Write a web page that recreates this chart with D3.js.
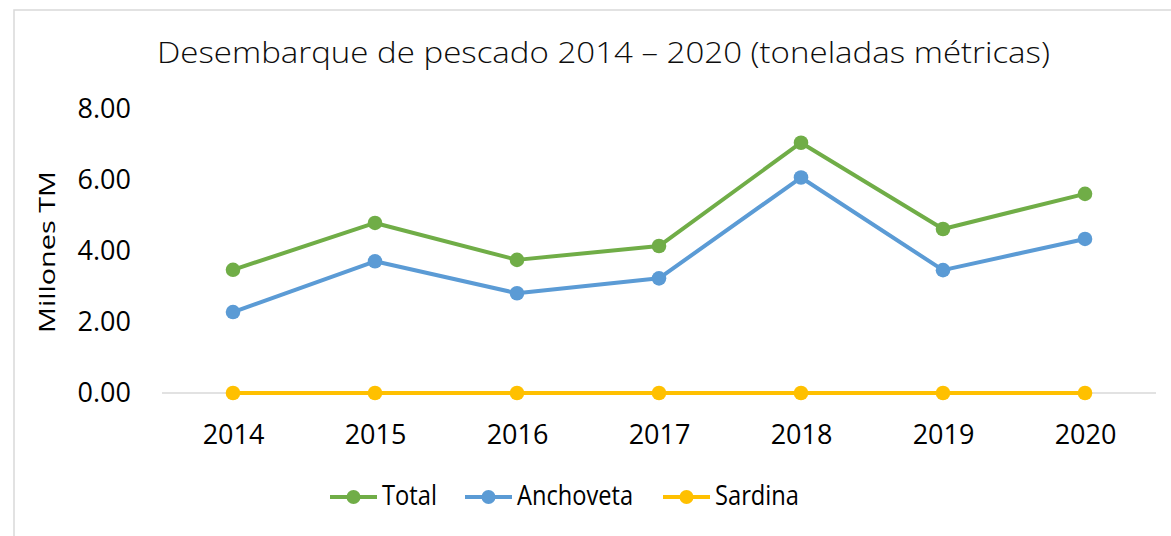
<!DOCTYPE html>
<html>
<head>
<meta charset="utf-8">
<script src="https://cdn.jsdelivr.net/npm/d3@7"></script>
<style>
  body { margin: 0; background: #fff; }
  svg { display: block; font-family: 'Open Sans', 'Noto Sans', sans-serif; }
</style>
</head>
<body>
<svg id="chart" width="1171" height="536"></svg>
<script>
const years = ['2014', '2015', '2016', '2017', '2018', '2019', '2020'];
const total = [3.47, 4.79, 3.75, 4.14, 7.05, 4.62, 5.61];
const anchoveta = [2.28, 3.71, 2.81, 3.23, 6.07, 3.46, 4.34];
const sardina = [0.00, 0.00, 0.00, 0.00, 0.00, 0.00, 0.00];
const yTicks = [0, 2, 4, 6, 8];

const series = [
  { name: 'Total', values: total, color: '#70AD47', width: 55 },
  { name: 'Anchoveta', values: anchoveta, color: '#5B9BD5', width: 116 },
  { name: 'Sardina', values: sardina, color: '#FFC000', width: 84 }
];

const svg = d3.select('#chart');

// chart border
svg.append('rect')
  .attr('x', 14).attr('y', 10)
  .attr('width', 1170).attr('height', 540)
  .attr('fill', 'none').attr('stroke', '#D9D9D9').attr('stroke-width', 1.5);

const x = d3.scalePoint().domain(years).range([162, 1156]).padding(0.5);
const y = d3.scaleLinear().domain([0, 8]).range([393, 109]);

// title
svg.append('text')
  .attr('x', 157).attr('y', 63)
  .attr('font-size', 29).attr('font-weight', 300)
  .attr('fill', '#0d0d0d')
  .attr('textLength', 893).attr('lengthAdjust', 'spacingAndGlyphs')
  .text('Desembarque de pescado 2014 – 2020 (toneladas métricas)');

// y axis labels
const yAxis = svg.append('g').attr('transform', 'translate(131,0)')
  .call(d3.axisLeft(y).tickValues(yTicks).tickFormat(d3.format('.2f')).tickSize(0).tickPadding(0));
yAxis.select('.domain').remove();
yAxis.selectAll('text').attr('font-size', 27).attr('fill', '#000').attr('font-family', "'Open Sans', sans-serif");

// baseline
svg.append('line')
  .attr('x1', 162).attr('x2', 1156)
  .attr('y1', y(0)).attr('y2', y(0))
  .attr('stroke', '#D9D9D9').attr('stroke-width', 1.5);

// x axis labels
const xAxis = svg.append('g')
  .call(d3.axisBottom(x).tickSize(0).tickPadding(0));
xAxis.select('.domain').remove();
xAxis.selectAll('text')
  .attr('y', 444).attr('dy', null)
  .attr('font-size', 27).attr('fill', '#000').attr('font-family', "'Open Sans', sans-serif");

// axis title
svg.append('text')
  .attr('transform', 'translate(55,333) rotate(-90)')
  .attr('font-size', 22)
  .attr('fill', '#000')
  .attr('textLength', 162).attr('lengthAdjust', 'spacingAndGlyphs')
  .text('Millones TM');

// lines and markers
const line = d3.line().x((d, i) => x(years[i])).y((d) => y(d));

const g = svg.append('g');
series.slice().reverse().forEach((s) => {
  g.append('path')
    .datum(s.values)
    .attr('d', line)
    .attr('fill', 'none')
    .attr('stroke', s.color)
    .attr('stroke-width', 4)
    .attr('stroke-linejoin', 'round');
  g.selectAll(null).data(s.values).join('circle')
    .attr('cx', (d, i) => x(years[i]))
    .attr('cy', (d) => y(d))
    .attr('r', 7.3)
    .attr('fill', s.color);
});

// legend
const legendX = [330, 465, 663];
const legend = svg.append('g');
series.forEach((s, i) => {
  const lg = legend.append('g').attr('transform', `translate(${legendX[i]},497)`);
  lg.append('line').attr('x1', 0).attr('x2', 47).attr('y1', 0).attr('y2', 0)
    .attr('stroke', s.color).attr('stroke-width', 4);
  lg.append('circle').attr('cx', 23.5).attr('cy', 0).attr('r', 7).attr('fill', s.color);
  lg.append('text').attr('x', 52).attr('y', 8)
    .attr('font-size', 27).attr('fill', '#000')
    .attr('textLength', s.width).attr('lengthAdjust', 'spacingAndGlyphs')
    .text(s.name);
});
</script>
</body>
</html>
